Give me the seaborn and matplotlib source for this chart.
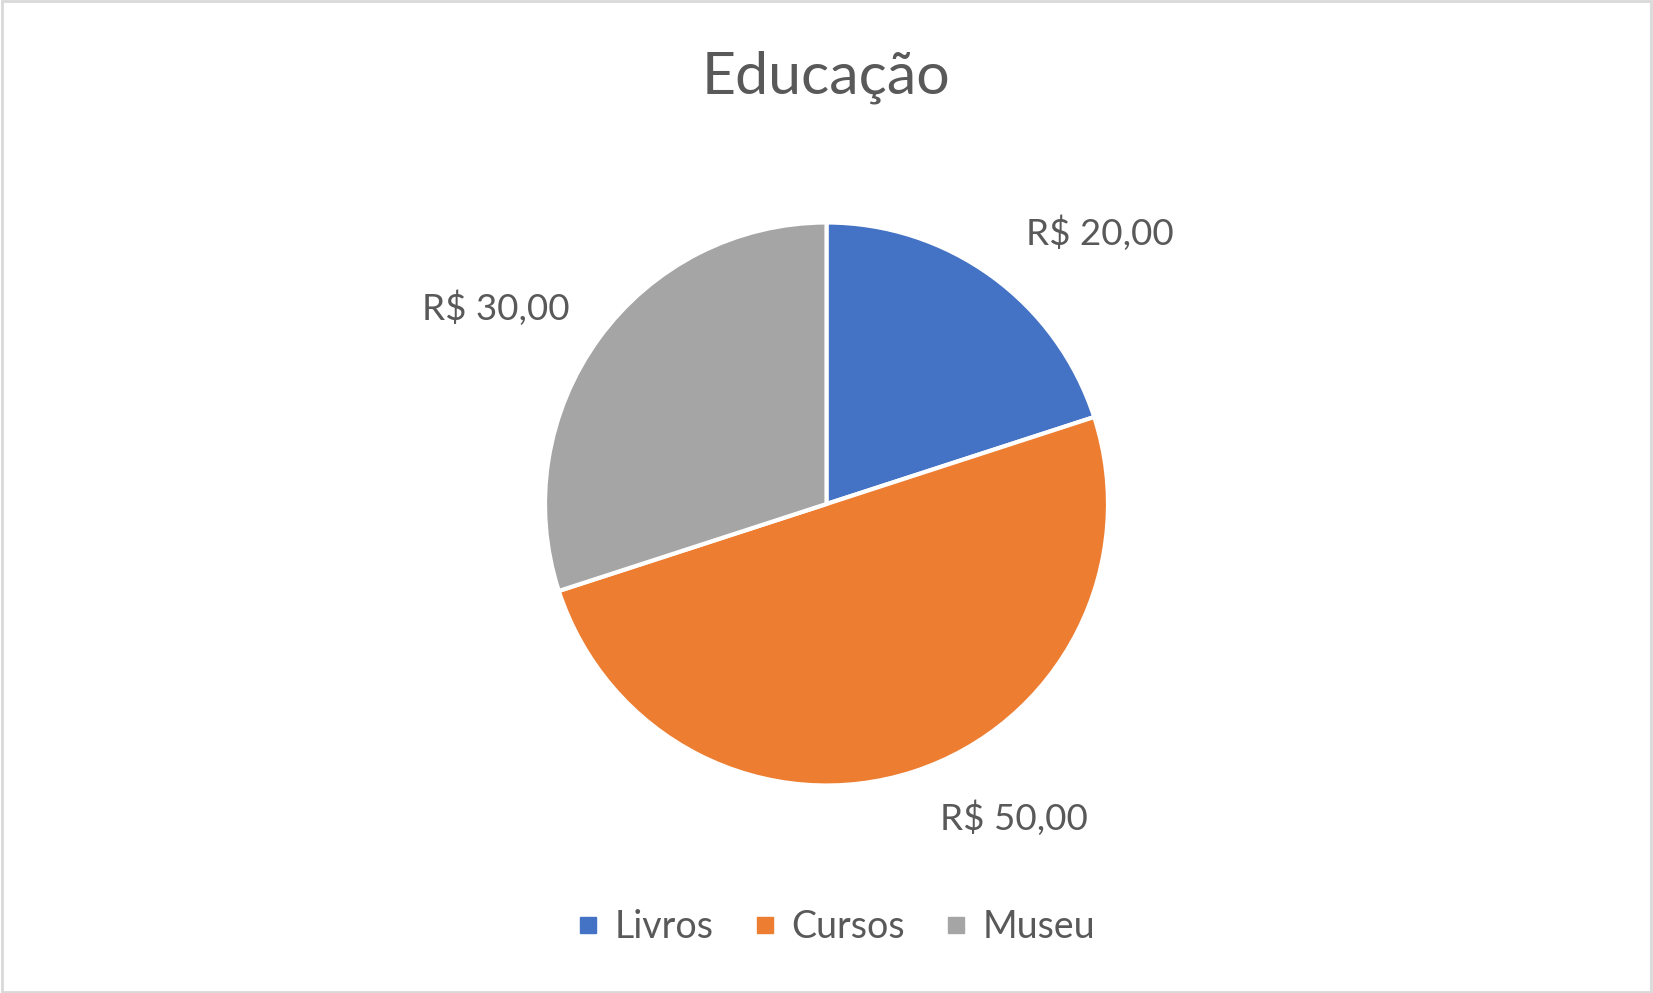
import matplotlib
matplotlib.use("Agg")
import matplotlib.pyplot as plt
import seaborn as sns
from matplotlib.patches import Rectangle
from matplotlib.lines import Line2D

categories = ["Livros", "Cursos", "Museu"]
values = [20, 50, 30]
value_labels = ["R$ 20,00", "R$ 50,00", "R$ 30,00"]
colors = ["#4472C4", "#ED7D31", "#A5A5A5"]
title = "Educação"

sns.set_theme(style="white")
plt.rcParams['font.family'] = ['Lato', 'DejaVu Sans']
text_color = "#595959"

W, H = 1653, 993
fig = plt.figure(figsize=(W / 100, H / 100), dpi=100)
fig.patch.set_facecolor("white")

# pie axes (square)
cx, cy, r = 826.5, 504, 281.5
ax = fig.add_axes([(cx - r) / W, (H - cy - r) / H, 2 * r / W, 2 * r / H])
wedges, _ = ax.pie(values, colors=colors, startangle=90, counterclock=False,
                   wedgeprops=dict(edgecolor="white", linewidth=3))
ax.set_xlim(-1, 1)
ax.set_ylim(-1, 1)
ax.set_aspect("equal")
ax.axis("off")

# data labels (positions relative to pie center in radius units)
label_pos = [(0.97, 0.962), (0.666, -1.115), (-1.176, 0.696)]
for (lx, ly), txt in zip(label_pos, value_labels):
    ax.text(lx, ly, txt, ha="center", va="center", fontsize=26.5, color=text_color)

fig.text(826 / W, 1 - 77 / H, title, ha="center", va="center", fontsize=42.5, color=text_color)

handles = [Line2D([], [], marker="s", linestyle="none", markersize=12,
                  markerfacecolor=c, markeredgecolor=c) for c in colors]
fig.legend(handles, categories, loc="center", bbox_to_anchor=(836 / W, 1 - 927 / H),
           ncol=3, frameon=False, fontsize=27, labelcolor=text_color,
           handlelength=0.6, handletextpad=0.42, columnspacing=1.05)

fig.add_artist(Rectangle((0.001, 0.001), 0.998, 0.998, transform=fig.transFigure,
                         fill=False, edgecolor="#D9D9D9", linewidth=2))

fig.savefig("out.png", dpi=100, facecolor="white")
